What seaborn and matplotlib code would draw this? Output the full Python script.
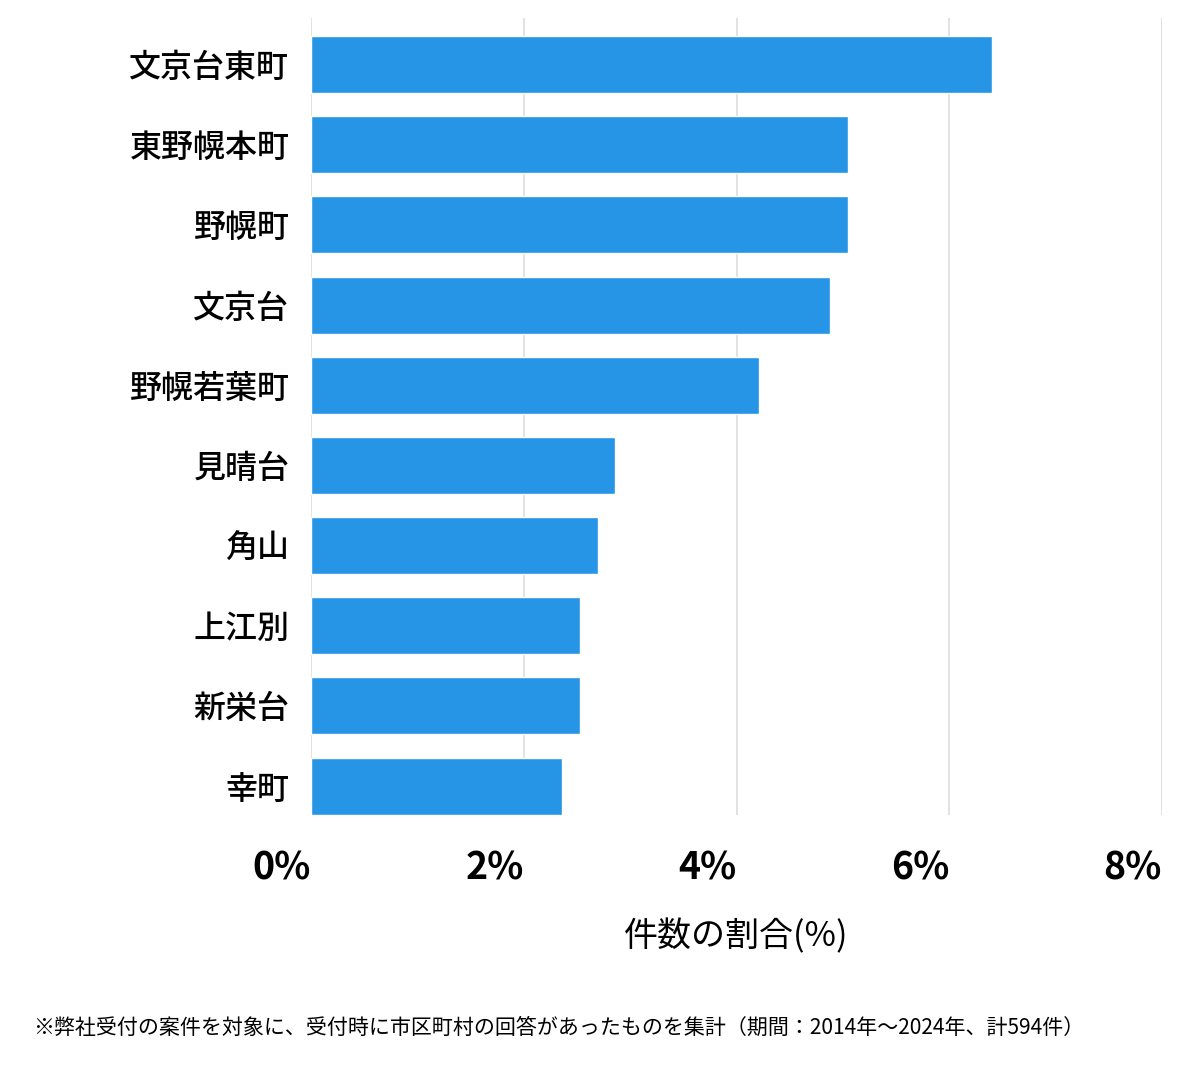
import matplotlib
matplotlib.use("Agg")
import matplotlib.pyplot as plt
import seaborn as sns
import pandas as pd

# データ
areas = ["文京台東町", "東野幌本町", "野幌町", "文京台", "野幌若葉町",
         "見晴台", "角山", "上江別", "新栄台", "幸町"]
counts = [38, 30, 30, 29, 25, 17, 16, 15, 15, 14]
total = 594
xticks = [0, 2, 4, 6, 8]
xticklabels = ["0%", "2%", "4%", "6%", "8%"]

df = pd.DataFrame({"area": areas, "share": [c / total * 100 for c in counts]})

sns.set_theme(style="white")
plt.rcParams["font.family"] = ["Noto Sans CJK JP", "DejaVu Sans"]
plt.rcParams["text.color"] = "black"
plt.rcParams["axes.labelcolor"] = "black"
plt.rcParams["xtick.color"] = "black"
plt.rcParams["ytick.color"] = "black"

fig = plt.figure(figsize=(12, 10.69), dpi=100)
ax = fig.add_axes([311 / 1200, 1 - 815 / 1069, (1162 - 311) / 1200, (815 - 18) / 1069])

sns.barplot(data=df, x="share", y="area", color="#2695e5", saturation=1,
            width=0.71, ax=ax, zorder=3)

ax.set_xlim(0, 8)
ax.set_ylim(9.36, -0.58)
ax.set_xticks(xticks)
ax.set_xticklabels(xticklabels, fontsize=27, fontweight="bold", ha="right")
ax.tick_params(axis="x", length=0, pad=24)
ax.tick_params(axis="y", length=0, pad=15.5, labelsize=23)
for lbl in ax.get_yticklabels():
    lbl.set_fontweight("medium")
ax.grid(axis="x", color="#dddddd", linewidth=1.2, zorder=0)
for s in ax.spines.values():
    s.set_visible(False)

ax.set_ylabel("")
ax.set_xlabel("件数の割合(%)", fontsize=24.5, labelpad=23)

fig.text(33 / 1200, 1 - 1028 / 1069,
         "※弊社受付の案件を対象に、受付時に市区町村の回答があったものを集計（期間：2014年～2024年、計594件）",
         fontsize=15.1, va="center", ha="left")

fig.savefig("out.png", dpi=100)
